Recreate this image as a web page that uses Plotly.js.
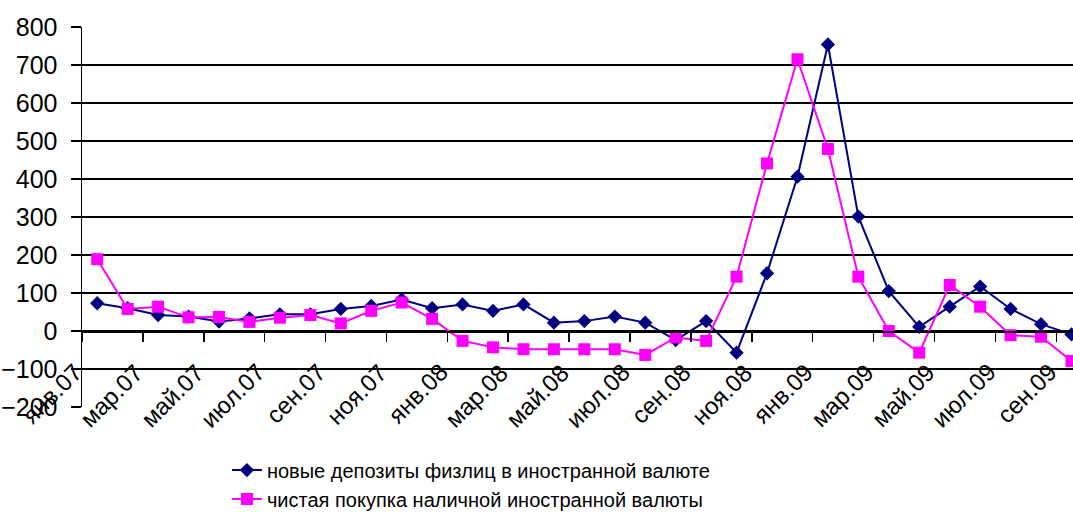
<!DOCTYPE html>
<html>
<head>
<meta charset="utf-8">
<script src="https://cdn.plot.ly/plotly-3.0.1.min.js"></script>
<style>html,body{margin:0;padding:0;background:#fff;}#chart{width:1073px;height:512px;}</style>
</head>
<body>
<div id="chart"></div>
<script>
const months = ["янв.07","фев.07","мар.07","апр.07","май.07","июн.07","июл.07","авг.07","сен.07","окт.07","ноя.07","дек.07",
  "янв.08","фев.08","мар.08","апр.08","май.08","июн.08","июл.08","авг.08","сен.08","окт.08","ноя.08","дек.08",
  "янв.09","фев.09","мар.09","апр.09","май.09","июн.09","июл.09","авг.09","сен.09"];
const deposits = [73,60,42,38,25,33,44,44,58,66,83,60,70,53,70,22,26,38,22,-24,26,-57,152,406,754,301,105,11,64,117,58,18,-9];
const cashPurchase = [189,58,64,36,37,24,35,42,20,53,75,32,-26,-43,-48,-48,-48,-48,-63,-17,-26,143,441,715,479,143,0,-57,121,64,-11,-15,-79];
const seriesNames = ["новые депозиты физлиц в иностранной валюте","чистая покупка наличной иностранной валюты"];
const tickLabels = months.filter((m,i)=>i%2===0);

const traces = [
  {x: months, y: deposits, name: seriesNames[0], type: 'scatter', mode: 'lines+markers',
   line: {color: '#000080', width: 2}, marker: {symbol: 'diamond', size: 11, color: '#000080'}, cliponaxis: false},
  {x: months, y: cashPurchase, name: seriesNames[1], type: 'scatter', mode: 'lines+markers',
   line: {color: '#FF00FF', width: 2}, marker: {symbol: 'square', size: 12, color: '#FF00FF'}, cliponaxis: false}
];

// rotated category labels placed under the zero-line axis
const labelAnnotations = tickLabels.map(t => ({
  x: t, xref: 'x', y: 0, yref: 'y', text: t, showarrow: false,
  textangle: -45, xanchor: 'right', yanchor: 'top', xshift: -7, yshift: -25,
  font: {size: 24, color: '#000'}
}));

const layout = {
  width: 1073, height: 512,
  margin: {l: 82, r: 0, t: 27, b: 105, autoexpand: false},
  paper_bgcolor: '#fff', plot_bgcolor: '#fff',
  font: {family: 'Arial, "Liberation Sans", sans-serif', color: '#000'},
  showlegend: true,
  legend: {orientation: 'v', xref: 'container', yref: 'container', x: 0.2115, xanchor: 'left', y: 0.12, yanchor: 'top',
           font: {size: 20, color: '#000'}, bgcolor: 'rgba(0,0,0,0)'},
  annotations: labelAnnotations,
  xaxis: {type: 'category', categoryorder: 'array', categoryarray: months, automargin: false,
          range: [-0.5, 32.05], anchor: 'free', position: 0.2,
          tickmode: 'array', tickvals: tickLabels, ticktext: tickLabels, showticklabels: false,
          tickson: 'boundaries', ticks: 'outside', ticklen: 9, tickwidth: 1.5, tickcolor: '#000',
          showline: true, linecolor: '#000', linewidth: 1.5, showgrid: false, zeroline: false},
  yaxis: {range: [-200, 800], dtick: 100, tick0: 0, automargin: false, ticks: 'outside', ticklen: 10, tickwidth: 1.5, tickcolor: '#000',
          tickfont: {size: 25, color: '#000'}, ticklabelstandoff: 8, showline: true, linecolor: '#000', linewidth: 1.5,
          showgrid: true, gridcolor: '#000', gridwidth: 1.6, zeroline: true, zerolinecolor: '#000', zerolinewidth: 1.6}
};

Plotly.newPlot('chart', traces, layout, {displayModeBar: false, staticPlot: true});
</script>
</body>
</html>
